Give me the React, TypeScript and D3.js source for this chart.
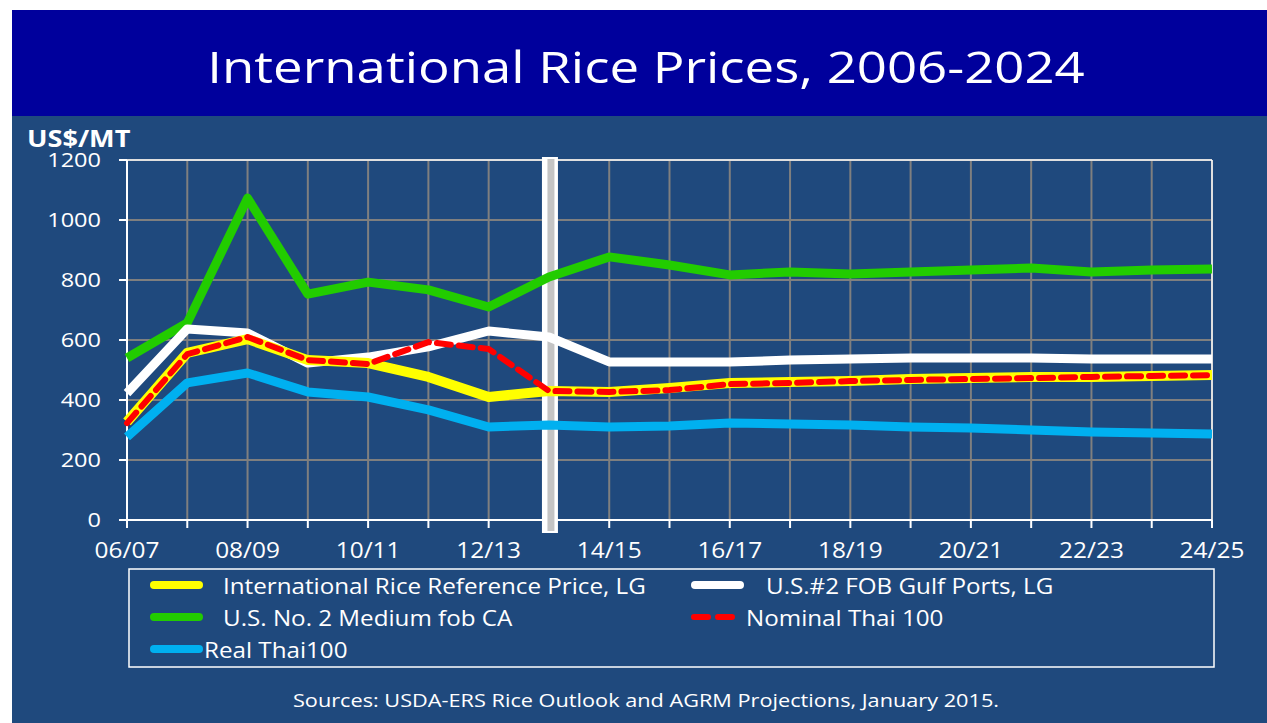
import React from "react";
import * as d3 from "d3";

const categories = ["06/07","07/08","08/09","09/10","10/11","11/12","12/13","13/14","14/15","15/16","16/17","17/18","18/19","19/20","20/21","21/22","22/23","23/24","24/25"];
const xTickLabels = ["06/07","08/09","10/11","12/13","14/15","16/17","18/19","20/21","22/23","24/25"];
const yTicks = [0,200,400,600,800,1000,1200];

const irrp = [327,557,603,533,523,477,410,430,427,440,457,460,463,470,473,477,477,480,483];
const usGulf = [423,637,623,523,543,577,630,610,527,527,527,533,537,540,540,540,537,537,537];
const usMedium = [540,657,1073,753,793,767,710,810,877,850,817,827,820,827,833,840,827,833,837];
const nominalThai = [323,553,610,533,520,593,570,430,427,433,453,457,463,467,470,473,477,480,483];
const realThai = [277,457,490,427,410,367,310,317,310,313,323,320,317,310,307,300,293,290,287];

const FONT = "'Open Sans', 'Noto Sans', sans-serif";

function T(props: { x: number; y: number; size: number; sx?: number; anchor?: string; bold?: boolean; children: React.ReactNode }) {
  const { x, y, size, sx = 1, anchor = "start", bold, children } = props;
  return (
    <text transform={`translate(${x},${y}) scale(${sx},1)`} textAnchor={anchor} fill="#ffffff"
      fontSize={size} fontWeight={bold ? "bold" : "normal"}>{children}</text>
  );
}

export default function App() {
  const W = 1267, H = 723;
  const x = d3.scalePoint<string>().domain(categories).range([127, 1212]);
  const y = d3.scaleLinear().domain([0, 1200]).range([520, 160]);
  const line = d3.line<number>().x((_, i) => x(categories[i])!).y(d => y(d));

  const series = [
    { data: realThai, color: "#00b0f0", w: 9, dash: undefined as string | undefined },
    { data: usMedium, color: "#22cc00", w: 9, dash: undefined },
    { data: usGulf, color: "#ffffff", w: 9, dash: undefined },
    { data: irrp, color: "#ffff00", w: 10, dash: undefined },
    { data: nominalThai, color: "#ff0000", w: 6, dash: "14 8" },
  ];
  const divX = x("13/14")!;

  const legend = [
    { label: "International Rice Reference Price, LG", color: "#ffff00", dash: false, lx: 150, tx: 223, ty: 594 },
    { label: "U.S.#2 FOB Gulf Ports, LG", color: "#ffffff", dash: false, lx: 691, tx: 766, ty: 594 },
    { label: "U.S. No. 2 Medium fob CA", color: "#22cc00", dash: false, lx: 150, tx: 223, ty: 626 },
    { label: "Nominal Thai 100", color: "#ff0000", dash: true, lx: 691, tx: 746, ty: 626 },
    { label: "Real Thai100", color: "#00b0f0", dash: false, lx: 150, tx: 204, ty: 658 },
  ];

  return (
    <svg width={W} height={H} style={{ position: "absolute", left: 0, top: 0, background: "#ffffff" }} fontFamily={FONT}>
      <rect x={12} y={10} width={W - 12} height={106} fill="#00009c" />
      <rect x={12} y={116} width={W - 12} height={H - 116} fill="#1f497d" />
      <T x={646} y={83} size={44.5} sx={1.185} anchor="middle">International Rice Prices, 2006-2024</T>
      <T x={27} y={147} size={24} sx={1.13} bold>US$/MT</T>

      {/* grid */}
      {categories.map(c => (
        <line key={"gv" + c} x1={x(c)} x2={x(c)} y1={160} y2={520} stroke="#7f7f7f" strokeWidth={2} />
      ))}
      {yTicks.map(t => (
        <line key={"gh" + t} x1={127} x2={1212} y1={y(t)} y2={y(t)} stroke="#7f7f7f" strokeWidth={2} />
      ))}
      {/* frame */}
      <line x1={119} x2={1212} y1={160} y2={160} stroke="#ffffff" strokeWidth={1.5} />
      <line x1={1212} x2={1212} y1={160} y2={520} stroke="#ffffff" strokeWidth={1.5} />
      <line x1={127} x2={127} y1={160} y2={528} stroke="#ffffff" strokeWidth={2} />
      <line x1={119} x2={1212} y1={520} y2={520} stroke="#ffffff" strokeWidth={2} />
      {yTicks.map(t => (
        <g key={"yt" + t}>
          <line x1={119} x2={127} y1={y(t)} y2={y(t)} stroke="#ffffff" strokeWidth={2} />
          <T x={101} y={y(t) + 7} size={19.6} sx={1.2} anchor="end">{t}</T>
        </g>
      ))}
      {categories.map(c => (
        <line key={"xt" + c} x1={x(c)} x2={x(c)} y1={520} y2={528} stroke="#ffffff" strokeWidth={2} />
      ))}
      {xTickLabels.map(c => (
        <T key={"xl" + c} x={x(c)!} y={558} size={22} sx={1.11} anchor="middle">{c}</T>
      ))}

      {/* divider */}
      <rect x={divX - 7} y={157} width={16} height={376} fill="#ffffff" />
      <rect x={divX - 1.5} y={159} width={7} height={372} fill="#c4c4c4" />

      {series.map((s, i) => (
        <path key={"s" + i} d={line(s.data)!} fill="none" stroke={s.color} strokeWidth={s.w}
          strokeDasharray={s.dash} strokeLinejoin="round" strokeLinecap={s.dash ? "round" : "butt"} />
      ))}

      {/* legend */}
      <rect x={129} y={569} width={1085} height={98} fill="none" stroke="#ffffff" strokeWidth={1.5} />
      {legend.map((l, i) => (
        <g key={"lg" + i}>
          {l.dash ? (
            <line x1={l.lx + 3} x2={l.lx + 45} y1={l.ty - 9} y2={l.ty - 9} stroke={l.color} strokeWidth={6} strokeDasharray="14 10" strokeLinecap="round" />
          ) : (
            <line x1={l.lx + 4} x2={l.lx + 49} y1={l.ty - 9} y2={l.ty - 9} stroke={l.color} strokeWidth={8} strokeLinecap="round" />
          )}
          <T x={l.tx} y={l.ty} size={22} sx={1.1}>{l.label}</T>
        </g>
      ))}

      <T x={646} y={707} size={17.8} sx={1.22} anchor="middle">Sources: USDA-ERS Rice Outlook and AGRM Projections, January 2015.</T>
    </svg>
  );
}
